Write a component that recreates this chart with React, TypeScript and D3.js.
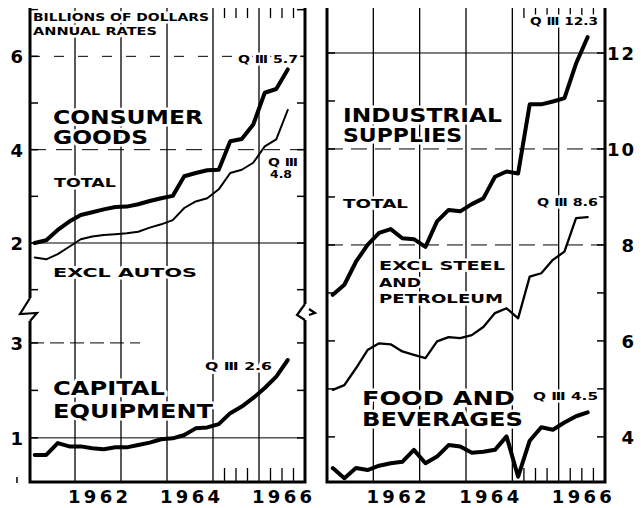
import React from "react";
import * as d3 from "d3";

// quarterly observations, 1961 Q I through 1966 Q III
const quarters = [
  "1961Q1", "1961Q2", "1961Q3", "1961Q4",
  "1962Q1", "1962Q2", "1962Q3", "1962Q4",
  "1963Q1", "1963Q2", "1963Q3", "1963Q4",
  "1964Q1", "1964Q2", "1964Q3", "1964Q4",
  "1965Q1", "1965Q2", "1965Q3", "1965Q4",
  "1966Q1", "1966Q2", "1966Q3",
];

// billions of dollars, annual rates
const consumerTotal = [2.0, 2.06, 2.28, 2.46, 2.6, 2.66, 2.72, 2.77, 2.78, 2.83, 2.9, 2.96, 3.01, 3.43, 3.5, 3.56, 3.57, 4.18, 4.23, 4.54, 5.22, 5.3, 5.72];
const consumerExclAutos = [1.69, 1.65, 1.76, 1.92, 2.08, 2.14, 2.17, 2.19, 2.21, 2.24, 2.33, 2.4, 2.49, 2.75, 2.89, 2.96, 3.15, 3.5, 3.57, 3.72, 4.07, 4.22, 4.85];
const capitalEquipment = [0.64, 0.64, 0.89, 0.82, 0.82, 0.78, 0.76, 0.8, 0.8, 0.85, 0.9, 0.97, 0.99, 1.06, 1.2, 1.22, 1.29, 1.52, 1.66, 1.84, 2.05, 2.29, 2.64];
const industrialTotal = [6.96, 7.17, 7.65, 8.0, 8.25, 8.33, 8.14, 8.12, 7.96, 8.49, 8.73, 8.7, 8.85, 8.97, 9.42, 9.53, 9.49, 10.93, 10.93, 10.99, 11.06, 11.78, 12.33];
const industrialExcl = [4.98, 5.08, 5.43, 5.81, 5.95, 5.93, 5.78, 5.71, 5.64, 5.99, 6.08, 6.06, 6.12, 6.29, 6.58, 6.68, 6.47, 7.34, 7.41, 7.69, 7.86, 8.56, 8.58];
const foodBeverages = [3.35, 3.14, 3.35, 3.31, 3.4, 3.45, 3.48, 3.73, 3.45, 3.59, 3.83, 3.8, 3.67, 3.69, 3.73, 4.01, 3.17, 3.92, 4.2, 4.15, 4.3, 4.43, 4.51];

const gridYears = [1962, 1963, 1964, 1965, 1966];
const yearLabels = ["1962", "1964", "1966"];
const quarterTicks = [1965.25, 1965.5, 1965.75, 1966.25, 1966.5, 1966.75];
const leftTopTicks = [2, 4, 6];
const leftBotTicks = [1, 3];
const rightTicks = [4, 6, 8, 10, 12];

const FONT = "'DejaVu Sans', Verdana, sans-serif";

const toYear = (q: string) => +q.slice(0, 4) + (+q.slice(5) - 0.5) / 4;

const T = ({ x, y, size, len, anchor, children }: any) => (
  <text
    x={x}
    y={y}
    fontSize={size}
    fontWeight="bold"
    fontFamily={FONT}
    textLength={len}
    lengthAdjust={len ? "spacingAndGlyphs" : undefined}
    textAnchor={anchor || "start"}
    fill="#000"
    stroke="#fff"
    strokeWidth={5}
    paintOrder="stroke"
    strokeLinejoin="round"
  >
    {children}
  </text>
);

const App = () => {
  const xL = d3.scaleLinear().domain([1961, 1967]).range([29, 305]);
  const xR = d3.scaleLinear().domain([1961, 1967]).range([327, 605]);
  const yTop = d3.scaleLinear().domain([0.5, 7.1]).range([313, 5]);
  const yBot = d3.scaleLinear().domain([0.07, 3.63]).range([482, 313]);
  const yR = d3.scaleLinear().domain([3.06, 13]).range([482, 5]);

  const mk = (xs: any, ys: any) =>
    d3
      .line<number>()
      .x((d, i) => xs(toYear(quarters[i])))
      .y((d) => ys(d))
      .curve(d3.curveLinear);

  const lineTop = mk(xL, yTop);
  const lineBot = mk(xL, yBot);
  const lineR = mk(xR, yR);

  const L0 = xL.range()[0] + 1, L1 = xL.range()[1];
  const R0 = xR.range()[0], R1 = xR.range()[1];

  return (
    <svg width={642} height={508} style={{ display: "block", margin: "-8px 0 0 -8px" }}>
      <rect x={0} y={0} width={642} height={508} fill="#fff" />

      {/* vertical year gridlines */}
      {gridYears.map((yr) => (
        <g key={yr} stroke="#000" strokeWidth={1.3}>
          <line x1={xL(yr)} x2={xL(yr)} y1={5} y2={482} />
          <line x1={xR(yr)} x2={xR(yr)} y1={5} y2={482} />
        </g>
      ))}

      {/* quarter ticks on top and bottom edges */}
      {quarterTicks.map((q) => (
        <g key={q} stroke="#000" strokeWidth={1.3}>
          <line x1={xL(q)} x2={xL(q)} y1={5} y2={18} />
          <line x1={xL(q)} x2={xL(q)} y1={482} y2={468} />
          <line x1={xR(q)} x2={xR(q)} y1={5} y2={18} />
          <line x1={xR(q)} x2={xR(q)} y1={482} y2={468} />
        </g>
      ))}

      {/* horizontal grid */}
      <g stroke="#000" strokeWidth={1}>
        <line x1={L0} x2={L1} y1={yTop(6)} y2={yTop(6)} strokeDasharray="10 14" />
        <line x1={L0} x2={L1} y1={yTop(4)} y2={yTop(4)} strokeDasharray="16 10" />
        <line x1={L0} x2={L1} y1={yTop(2)} y2={yTop(2)} />
        <line x1={L0} x2={L0 + 110} y1={yBot(3)} y2={yBot(3)} strokeDasharray="14 6" />
        <line x1={L0} x2={L1} y1={yBot(1)} y2={yBot(1)} />
        <line x1={R0} x2={R1} y1={yR(12)} y2={yR(12)} />
        <line x1={R0} x2={R1} y1={yR(10)} y2={yR(10)} strokeDasharray="16 8" />
        <line x1={R0} x2={R1} y1={yR(8)} y2={yR(8)} strokeDasharray="16 8" />
      </g>

      {/* minor edge ticks */}
      <g stroke="#000" strokeWidth={1.5}>
        {d3.range(1, 8).map((v) => (
          <g key={"t" + v}>
            <line x1={L0} x2={L0 + 8} y1={yTop(v)} y2={yTop(v)} />
            <line x1={L1 - 8} x2={L1} y1={yTop(v)} y2={yTop(v)} />
          </g>
        ))}
        {d3.range(1, 4).map((v) => (
          <g key={"b" + v}>
            <line x1={L0} x2={L0 + 8} y1={yBot(v)} y2={yBot(v)} />
            <line x1={L1 - 8} x2={L1} y1={yBot(v)} y2={yBot(v)} />
          </g>
        ))}
        {d3.range(4, 13).map((v) => (
          <g key={"r" + v}>
            <line x1={R0} x2={R0 + 8} y1={yR(v)} y2={yR(v)} />
            <line x1={R1 - 8} x2={R1} y1={yR(v)} y2={yR(v)} />
          </g>
        ))}
      </g>

      {/* panel labels */}
      <T x={33} y={21} size={11} len={176}>BILLIONS OF DOLLARS</T>
      <T x={33} y={35} size={11} len={124}>ANNUAL RATES</T>
      <T x={53} y={124} size={19} len={150}>CONSUMER</T>
      <T x={53} y={144} size={19} len={95}>GOODS</T>
      <T x={54} y={187} size={13} len={62}>TOTAL</T>
      <T x={53} y={277} size={13} len={144}>EXCL  AUTOS</T>
      <T x={238} y={63} size={11} len={60}>Q Ⅲ 5.7</T>
      <T x={268} y={166} size={10} len={30}>Q Ⅲ</T>
      <T x={270} y={178} size={10} len={22}>4.8</T>
      <T x={53} y={395} size={19} len={112}>CAPITAL</T>
      <T x={53} y={418} size={19} len={160}>EQUIPMENT</T>
      <T x={205} y={370} size={11} len={67}>Q Ⅲ 2.6</T>

      <T x={343} y={122} size={19} len={159}>INDUSTRIAL</T>
      <T x={343} y={142} size={19} len={119}>SUPPLIES</T>
      <T x={343} y={208} size={13} len={65}>TOTAL</T>
      <T x={530} y={25} size={11} len={68}>Q Ⅲ 12.3</T>
      <T x={537} y={206} size={11} len={61}>Q Ⅲ 8.6</T>
      <T x={379} y={270} size={13} len={126}>EXCL  STEEL</T>
      <T x={379} y={287} size={13} len={42}>AND</T>
      <T x={379} y={303} size={13} len={124}>PETROLEUM</T>
      <T x={362} y={405} size={19} len={153}>FOOD AND</T>
      <T x={362} y={426} size={19} len={161}>BEVERAGES</T>
      <T x={533} y={400} size={11} len={65}>Q Ⅲ 4.5</T>

      {/* data lines */}
      <g fill="none" stroke="#000" strokeLinejoin="round" strokeLinecap="round">
        <path d={lineTop(consumerTotal) || ""} strokeWidth={4} />
        <path d={lineTop(consumerExclAutos) || ""} strokeWidth={2} />
        <path d={lineBot(capitalEquipment) || ""} strokeWidth={4} />
        <path d={lineR(industrialTotal) || ""} strokeWidth={4} />
        <path d={lineR(industrialExcl) || ""} strokeWidth={2.3} />
        <path d={lineR(foodBeverages) || ""} strokeWidth={4} />
      </g>

      {/* frames */}
      <g fill="none" stroke="#000" strokeWidth={3} strokeLinejoin="miter">
        <path d={`M${L0},298 L${L0},5 L${L1},5 L${L1},304`} />
        <path d={`M${L0},321 L${L0},482 L${L1},482 L${L1},320`} />
        <path d={`M${R0},5 H${R1} V482 H${R0} Z`} />
      </g>
      {/* axis break marks */}
      <g fill="none" stroke="#000" strokeWidth={2.2} strokeLinejoin="miter">
        <path d={`M${L0},298 L20,314 L37,313 L${L0},321`} />
        <path d={`M${L1},304 L${L1 - 8},315 L${L1},320`} />
        <path d={`M${L1 + 4},309 L${L1 + 10},313 L${L1 + 4},315`} />
      </g>
      <line x1={17} x2={17} y1={477} y2={483} stroke="#000" strokeWidth={1.5} />

      {/* tick labels */}
      <g fontFamily={FONT} fontWeight="bold" fontSize={18} fill="#000">
        {leftTopTicks.map((v) => (
          <text key={"lt" + v} x={23} y={yTop(v) + 7} textAnchor="end">{v}</text>
        ))}
        {leftBotTicks.map((v) => (
          <text key={"lb" + v} x={23} y={yBot(v) + 7} textAnchor="end">{v}</text>
        ))}
        {rightTicks.map((v) => (
          <text key={"r" + v} x={636} y={yR(v) + 7} textAnchor="end" letterSpacing={2}>{v}</text>
        ))}
        {yearLabels.map((s) => (
          <g key={s}>
            <text x={xL(+s + 0.5)} y={503} textAnchor="middle" textLength={60} lengthAdjust="spacing">{s}</text>
            <text x={xR(+s + 0.5)} y={503} textAnchor="middle" textLength={60} lengthAdjust="spacing">{s}</text>
          </g>
        ))}
      </g>
    </svg>
  );
};

export default App;
